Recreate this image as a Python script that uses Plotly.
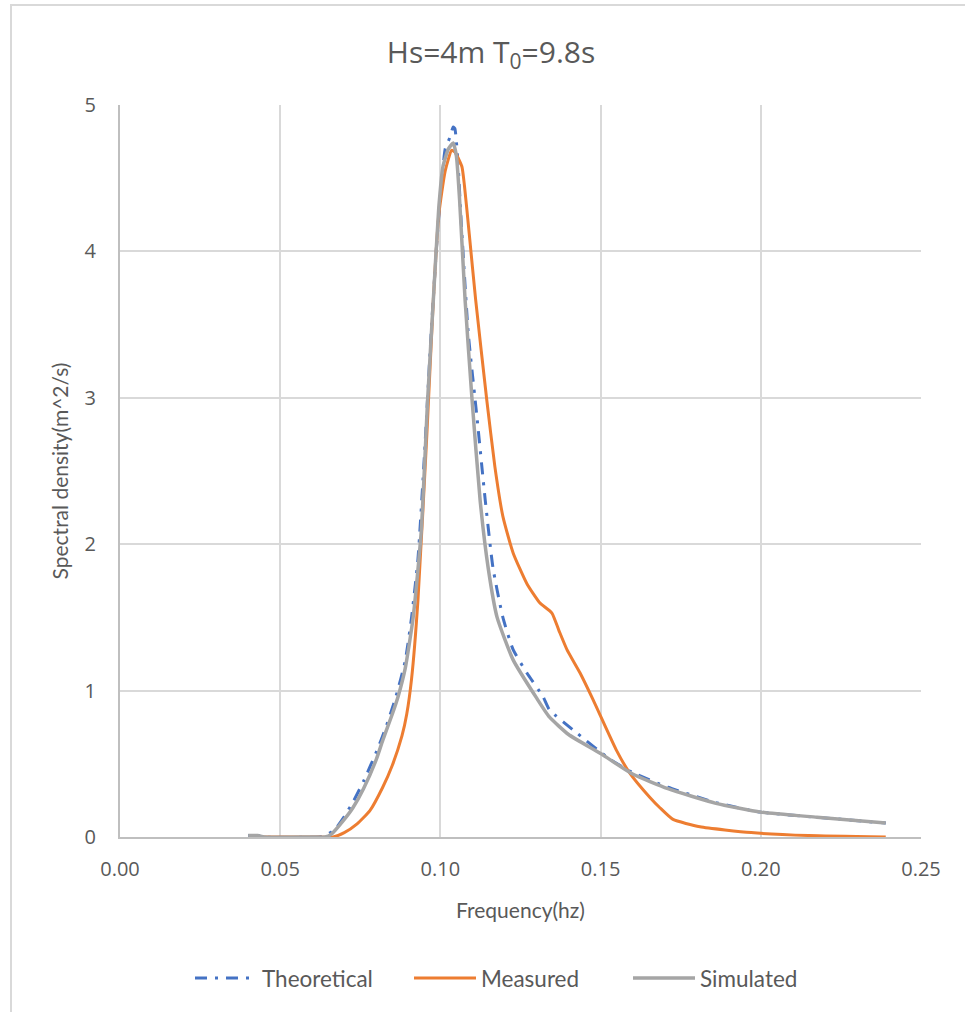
import plotly.graph_objects as go

# ---------------- data ----------------
theo_f = [0.040, 0.043, 0.045, 0.062, 0.064, 0.067, 0.070, 0.073, 0.076, 0.080, 0.083, 0.086,
          0.089, 0.091, 0.093, 0.095, 0.097, 0.099, 0.1005, 0.1015, 0.103, 0.104, 0.1045,
          0.1055, 0.1065, 0.1087, 0.1114, 0.114, 0.1164, 0.1195, 0.1227, 0.127, 0.132, 0.134,
          0.1426, 0.153, 0.160, 0.171, 0.186, 0.200, 0.2175, 0.239]
theo_s = [0.01, 0.01, 0.0, 0.0, 0.01, 0.05, 0.14, 0.25, 0.38, 0.58, 0.75, 0.95,
          1.2, 1.5, 1.9, 2.6, 3.4, 4.1, 4.5, 4.7, 4.78, 4.85, 4.84,
          4.6, 4.2, 3.44, 2.87, 2.30, 1.84, 1.50, 1.28, 1.12, 0.96, 0.87,
          0.71, 0.53, 0.44, 0.34, 0.235, 0.17, 0.135, 0.095]

meas_f = [0.043, 0.060, 0.0665, 0.070, 0.074, 0.078, 0.082, 0.085, 0.088, 0.0895, 0.091, 0.093,
          0.0958, 0.0978, 0.0995, 0.1015, 0.1035, 0.1045, 0.1067, 0.1075, 0.109, 0.111,
          0.1145, 0.117, 0.1195, 0.1227, 0.127, 0.131, 0.1348, 0.137, 0.1395, 0.1436, 0.1476,
          0.155, 0.159, 0.1654, 0.1685, 0.1726, 0.181, 0.197, 0.215, 0.239]
meas_s = [0.0, 0.0, 0.0, 0.03, 0.09, 0.18, 0.34, 0.49, 0.69, 0.84, 1.08, 1.62,
          2.76, 3.67, 4.25, 4.55, 4.69, 4.68, 4.58, 4.45, 4.12, 3.67,
          2.98, 2.53, 2.19, 1.94, 1.73, 1.60, 1.53, 1.41, 1.28, 1.12, 0.94,
          0.59, 0.44, 0.27, 0.20, 0.12, 0.07, 0.03, 0.01, 0.0]

sim_f = [0.040, 0.043, 0.045, 0.060, 0.064, 0.066, 0.070, 0.0727, 0.076, 0.080, 0.082, 0.085,
         0.0868, 0.089, 0.0915, 0.094, 0.096, 0.0978, 0.0995, 0.1008, 0.1025, 0.104, 0.105,
         0.106, 0.1077, 0.1099, 0.1124, 0.1149, 0.1177, 0.1227, 0.130, 0.134, 0.140, 0.150,
         0.160, 0.171, 0.186, 0.200, 0.2175, 0.239]
sim_s = [0.01, 0.01, 0.0, 0.0, 0.0, 0.02, 0.12, 0.20, 0.33, 0.53, 0.66, 0.84,
         0.96, 1.15, 1.5, 2.08, 2.98, 3.67, 4.3, 4.58, 4.70, 4.74, 4.65,
         4.35, 3.67, 2.98, 2.30, 1.84, 1.50, 1.21, 0.95, 0.82, 0.70, 0.57,
         0.43, 0.33, 0.23, 0.17, 0.135, 0.095]

x_ticks = [0.00, 0.05, 0.10, 0.15, 0.20, 0.25]
y_ticks = [0, 1, 2, 3, 4, 5]

# ---------------- figure ----------------
TXT = "#595959"
GRID = "#d9d9d9"

fig = go.Figure()
fig.add_trace(go.Scatter(x=theo_f, y=theo_s, mode="lines", name="Theoretical",
                         line=dict(color="#4472c4", width=3, dash="12px,8px,3px,8px",
                                   shape="spline", smoothing=0.5)))
fig.add_trace(go.Scatter(x=meas_f, y=meas_s, mode="lines", name="Measured",
                         line=dict(color="#ed7d31", width=3, shape="spline", smoothing=0.5)))
fig.add_trace(go.Scatter(x=sim_f, y=sim_s, mode="lines", name="Simulated",
                         line=dict(color="#a5a5a5", width=3.5, shape="spline", smoothing=0.5)))

# outer chart-area border (Excel style)
fig.add_shape(type="rect", xref="paper", yref="paper",
              x0=(11 - 120) / 801, x1=1.3, y0=-0.5, y1=(837 - 5) / 732,
              line=dict(color=GRID, width=2), layer="below")

fig.update_layout(
    width=965, height=1012,
    margin=dict(l=120, r=44, t=105, b=175, autoexpand=False),
    paper_bgcolor="white", plot_bgcolor="white",
    font=dict(family="Open Sans", color=TXT),
    title=dict(text="Hs=4m T<sub>0</sub>=9.8s", x=491 / 965, xanchor="center",
               y=1 - 52 / 1012, yanchor="middle",
               font=dict(family="Open Sans", size=30, color=TXT)),
    xaxis=dict(range=[0, 0.25], tickvals=x_ticks, tickformat=".2f",
               showgrid=True, gridcolor=GRID, gridwidth=2,
               showline=True, linecolor="#bfbfbf", linewidth=2,
               zeroline=False, ticks="", ticklabelstandoff=13,
               tickfont=dict(size=20, color=TXT),
               title=dict(text="Frequency(hz)", standoff=22,
                          font=dict(family="Lato", size=21, color=TXT))),
    yaxis=dict(range=[0, 5], tickvals=y_ticks,
               showgrid=True, gridcolor=GRID, gridwidth=2,
               showline=True, linecolor="#bfbfbf", linewidth=2,
               zeroline=False, ticks="", ticklabelstandoff=18,
               tickfont=dict(size=20, color=TXT),
               title=dict(text="Spectral density(m^2/s)", standoff=10,
                          font=dict(family="Lato", size=21, color=TXT))),
    legend=dict(orientation="h", x=(190 - 120) / 801, xanchor="left",
                y=-0.193, yanchor="middle",
                font=dict(family="Lato", size=22.5, color=TXT),
                entrywidth=142, entrywidthmode="pixels", itemwidth=62,
                bgcolor="rgba(0,0,0,0)"),
    showlegend=True,
)

fig.write_html("out.html")
